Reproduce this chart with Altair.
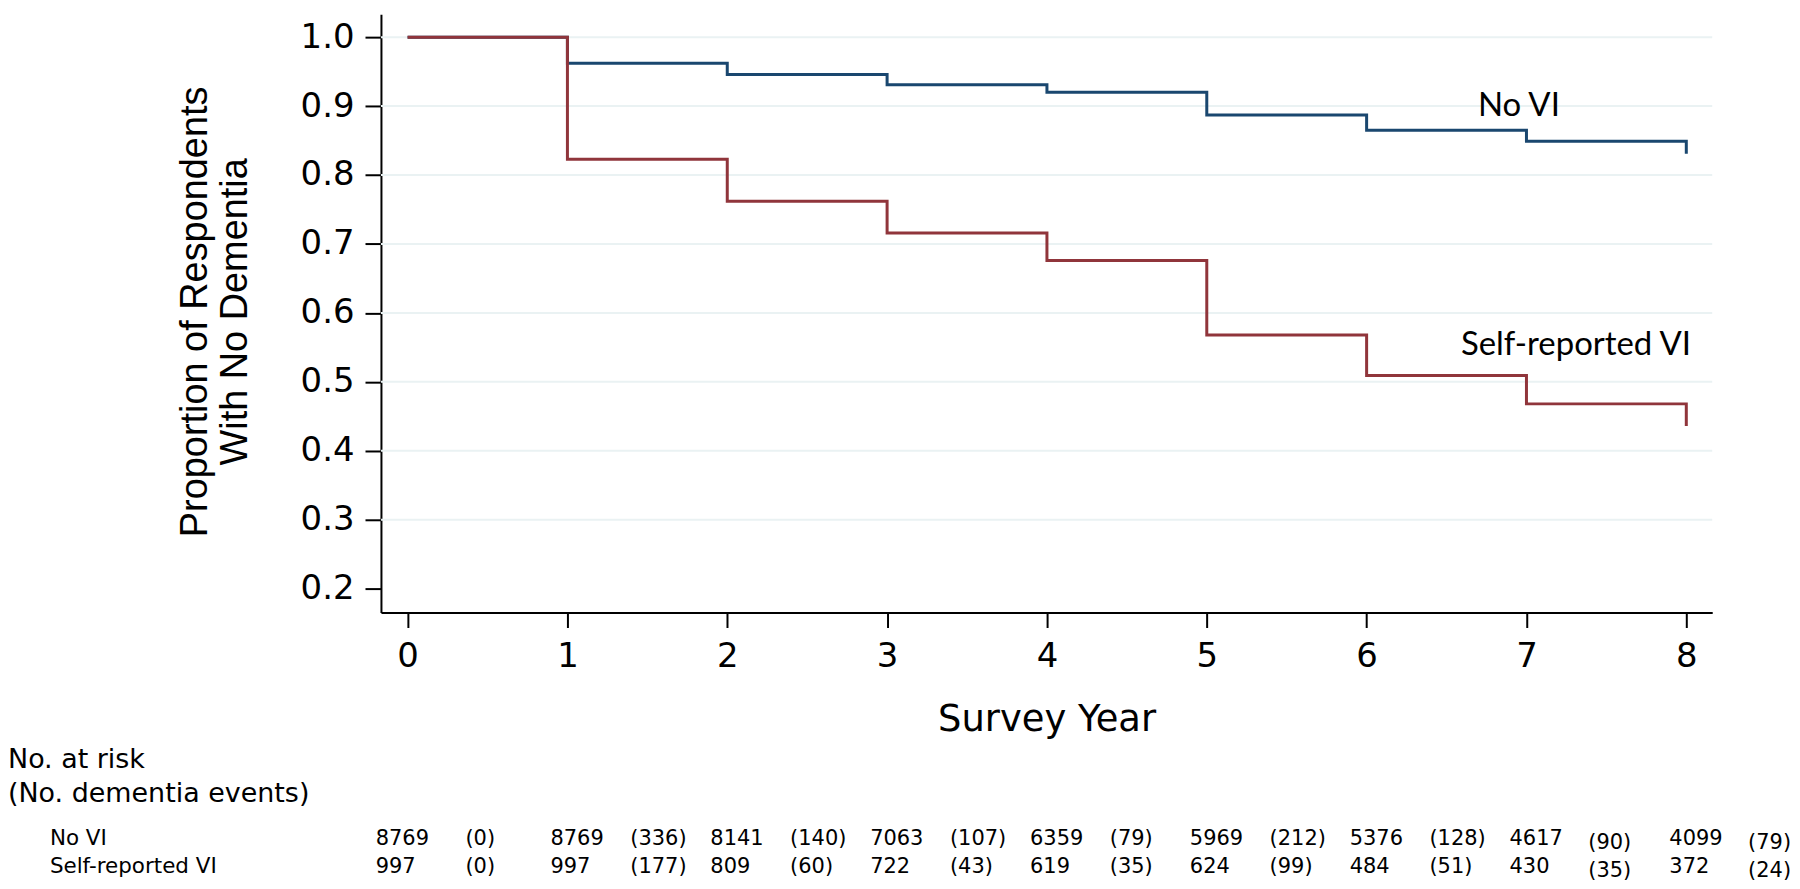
import altair as alt
import pandas as pd

# ---- survival curve data (value held on each interval starting at year) ----
years = [0, 1, 2, 3, 4, 5, 6, 7, 8]
surv_no_vi = [1.000, 0.962, 0.946, 0.931, 0.920, 0.887, 0.865, 0.849]
end_no_vi = 0.831
surv_vi = [1.000, 0.823, 0.762, 0.716, 0.676, 0.568, 0.509, 0.468]
end_vi = 0.436

# ---- risk table ----
at_risk_no_vi = [8769, 8769, 8141, 7063, 6359, 5969, 5376, 4617, 4099]
events_no_vi = [0, 336, 140, 107, 79, 212, 128, 90, 79]
at_risk_vi = [997, 997, 809, 722, 619, 624, 484, 430, 372]
events_vi = [0, 177, 60, 43, 35, 99, 51, 35, 24]

y_ticks = [0.2, 0.3, 0.4, 0.5, 0.6, 0.7, 0.8, 0.9, 1.0]
grid_vals = [0.3, 0.4, 0.5, 0.6, 0.7, 0.8, 0.9, 1.0]

BLUE = "#1a476f"
RED = "#90353b"
GRID = "#eaf2f3"
W, H = 1335, 600


def curve_df(surv, end):
    pts = [(t, s) for t, s in zip(years[:-1], surv)] + [(years[-1], surv[-1]), (years[-1], end)]
    return pd.DataFrame({"t": [p[0] for p in pts], "s": [p[1] for p in pts], "ord": list(range(len(pts)))})


xscale = alt.Scale(domain=[-0.1666, 8.1622], nice=False, zero=False)
yscale = alt.Scale(domain=[0.1653, 1.0333], nice=False, zero=False)

x_axis = alt.Axis(
    values=years, format="d", grid=False,
    labelFont="DejaVu Sans", labelFontSize=34, labelColor="black",
    labelBaseline="alphabetic", labelPadding=39,
    tickSize=15, tickWidth=2, tickColor="black",
    domainColor="black", domainWidth=2,
    title="Survey Year", titleFont="DejaVu Sans", titleFontSize=37,
    titleFontWeight="normal", titleColor="black",
    titleBaseline="alphabetic", titleY=118,
)
y_axis = alt.Axis(
    values=y_ticks, format=".1f", grid=False,
    labelFont="DejaVu Sans", labelFontSize=34, labelColor="black",
    labelPadding=11, labelBaseline="middle",
    tickSize=16, tickWidth=2, tickColor="black",
    domainColor="black", domainWidth=2,
    title=["Proportion of Respondents", "With No Dementia"],
    titleFont="Liberation Sans",
    titleFontSize=38, titleFontWeight="normal", titleColor="black",
    titleLineHeight=40, titleAngle=270, titleBaseline="alphabetic",
    titleAlign="center", titleX=-175, titleY=298,
)

grid = alt.Chart(pd.DataFrame({"g": grid_vals})).mark_rule(color=GRID, strokeWidth=2).encode(
    y=alt.Y("g:Q", scale=yscale, axis=y_axis)
)

base_x = alt.X("t:Q", scale=xscale, axis=x_axis)
line_blue = alt.Chart(curve_df(surv_no_vi, end_no_vi)).mark_line(
    color=BLUE, strokeWidth=3, interpolate="step-after"
).encode(x=base_x, y=alt.Y("s:Q", scale=yscale), order="ord:Q")
line_red = alt.Chart(curve_df(surv_vi, end_vi)).mark_line(
    color=RED, strokeWidth=3, interpolate="step-after"
).encode(x=base_x, y=alt.Y("s:Q", scale=yscale), order="ord:Q")

one = pd.DataFrame({"a": [0]})


def label(text, x, y, font, size, align="left", baseline="middle"):
    return alt.Chart(one).mark_text(
        align=align, baseline=baseline, font=font, fontSize=size, color="black"
    ).encode(x=alt.value(x), y=alt.value(y), text=alt.value(text))


ann_no_vi = label("No VI", 1100, 102, "Lato", 33, baseline="alphabetic")
ann_vi = label("Self-reported VI", 1083, 342, "Lato", 33, baseline="alphabetic")

hdr1 = label("No. at risk", -374, 748, "DejaVu Sans", 27)
hdr2 = label("(No. dementia events)", -374, 782, "DejaVu Sans", 27)

ROW_Y = {"No VI": 827, "Self-reported VI": 855}
row_lbls = [label(r, -332, y, "DejaVu Sans", 21.5) for r, y in ROW_Y.items()]


def table_layers(row, counts, events):
    y = ROW_Y[row]
    df = pd.DataFrame({
        "t": years,
        "n": [str(v) for v in counts],
        "e": ["(%d)" % v for v in events],
    })
    layers = []
    specs = [
        ("n", "datum.t == 0", -32, 0),
        ("n", "datum.t > 0", -17, 0),
        ("e", "datum.t == 0", 58, 0),
        ("e", "datum.t > 0 && datum.t < 7", 63, 0),
        ("e", "datum.t >= 7", 62, 4),
    ]
    for field, cond, dx, dy in specs:
        layers.append(
            alt.Chart(df).transform_filter(cond).mark_text(
                align="left", baseline="middle", font="DejaVu Sans", fontSize=21,
                color="black", dx=dx, dy=dy
            ).encode(x=alt.X("t:Q", scale=xscale), y=alt.value(y), text=f"{field}:N")
        )
    return layers


tbl = table_layers("No VI", at_risk_no_vi, events_no_vi) + table_layers(
    "Self-reported VI", at_risk_vi, events_vi
)

chart = alt.layer(
    grid, line_blue, line_red, ann_no_vi, ann_vi, hdr1, hdr2, *row_lbls, *tbl
).properties(
    width=W, height=H,
    padding={"left": 0, "top": 5, "right": 0, "bottom": 0},
    background="white",
).configure_view(stroke=None)

chart.save("out.html", embed_options={"renderer": "svg", "actions": False})
